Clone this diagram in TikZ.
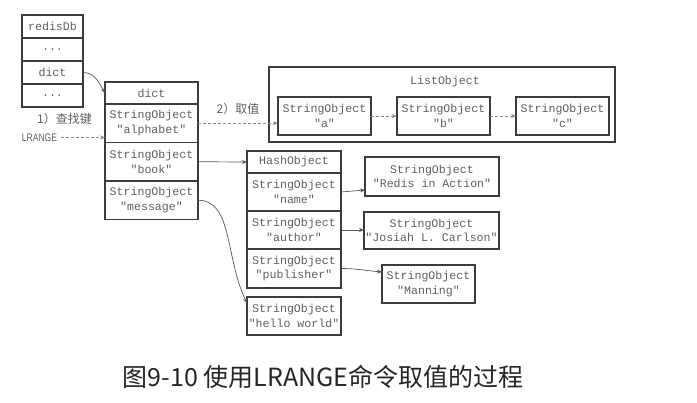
\documentclass[tikz,border=0pt]{standalone}
\usepackage{fontspec}
\usepackage{xcolor}
\usepackage{tikz}
\usetikzlibrary{positioning,calc,arrows.meta}
\newfontfamily\monofont{Liberation Mono}
\newfontfamily\cjk{Noto Sans CJK SC}
\newfontfamily\narrowfont[FakeStretch=0.78]{Liberation Sans}
\definecolor{boxline}{HTML}{3C3C3C}
\definecolor{txtgray}{HTML}{5E5E5E}
\definecolor{arrowgray}{HTML}{555555}
\definecolor{dashgray}{HTML}{8A8A8A}

\begin{document}
\begin{tikzpicture}[x=1pt,y=-1pt,
    cell/.style={draw=boxline, line width=1.5pt, outer sep=0pt, inner sep=0pt,
      align=center, text=txtgray, font=\monofont\fontsize{11.6}{14.5}\selectfont},
    narrowcell/.style={cell, minimum width=61pt, minimum height=23pt},
    headcell/.style={cell, minimum height=22pt},
    rowcell/.style={cell, minimum height=38.5pt},
    link/.style={draw=arrowgray, line width=0.7pt, -{Stealth[length=5pt,width=4pt]}},
    dashlink/.style={link, draw=dashgray, dash pattern=on 3pt off 2pt}]
    \useasboundingbox (0,0) rectangle (697,403);

    % redisDb
    \node[narrowcell] (db) at (52.5,26.5) {redisDb};
    \node[narrowcell, below=0pt of db] (dbdots) {...};
    \node[narrowcell, below=0pt of dbdots] (dbdict) {dict};
    \node[narrowcell, below=0pt of dbdict] (dbmore) {...};

    % dict
    \node[headcell, minimum width=93pt] (dict) at (151.5,93) {dict};
    \node[rowcell, minimum width=93pt, below=0pt of dict] (alpha) {StringObject\\"alphabet"};
    \node[rowcell, minimum width=93pt, below=0pt of alpha] (book) {StringObject\\"book"};
    \node[rowcell, minimum width=93pt, below=0pt of book] (msg) {StringObject\\"message"};

    % ListObject
    \node[cell, minimum width=346pt, minimum height=75pt] (list) at (442,104.5) {};
    \node[text=txtgray, font=\monofont\fontsize{11.6}{14.5}\selectfont] (listname) at (445,82) {ListObject};
    \node[cell, minimum width=93pt, minimum height=38pt] (sa) at (324.5,116) {StringObject\\"a"};
    \node[cell, minimum width=93pt, minimum height=38pt] (sb) at (443.5,116) {StringObject\\"b"};
    \node[cell, minimum width=93pt, minimum height=38pt] (sc) at (562.5,116) {StringObject\\"c"};

    % HashObject
    \node[headcell, minimum width=94pt] (hash) at (294,162) {HashObject};
    \node[rowcell, minimum width=94pt, minimum height=38pt, below=0pt of hash] (name) {StringObject\\"name"};
    \node[rowcell, minimum width=94pt, minimum height=38pt, below=0pt of name] (author) {StringObject\\"author"};
    \node[rowcell, minimum width=94pt, minimum height=39pt, below=0pt of author] (pub) {StringObject\\"publisher"};

    % values
    \node[cell, minimum width=134pt, minimum height=39pt] (redis) at (432,176.5) {StringObject\\"Redis in Action"};
    \node[cell, minimum width=135pt, minimum height=37pt] (josiah) at (431.5,230.5) {StringObject\\"Josiah L. Carlson"};
    \node[cell, minimum width=93pt, minimum height=38pt] (manning) at (428.5,284) {StringObject\\"Manning"};
    \node[cell, minimum width=94pt, minimum height=38pt] (hello) at (294,316) {StringObject\\"hello world"};

    % labels
    \node[text=txtgray, font=\cjk\fontsize{12}{12}\selectfont] (step1) at (64.5,119) {1）查找键};
    \node[text=txtgray, font=\narrowfont\fontsize{11}{11}\selectfont] (lrange) at (39.5,137.5) {LRANGE};
    \node[text=txtgray, font=\cjk\fontsize{12}{12}\selectfont] (step2) at (238,109) {2）取值};

    % connectors
    \draw[link] (dbdict.east) to[out=0,in=120] (dict.west);
    \draw[dashlink] (lrange.east) -- (lrange.east -| alpha.west);
    \draw[dashlink] (alpha.east) -- (alpha.east -| sa.west);
    \draw[dashlink] (sa) -- (sb);
    \draw[dashlink] (sb) -- (sc);
    \draw[link] (book.east) -- (hash.west);
    \coordinate (redisin) at ($(redis.west)+(0,13.5)$);
    \draw[link] (name.east) -- (redisin);
    \draw[link] (author.east) -- (author.east -| josiah.west);
    \coordinate (manningin) at ($(manning.west)+(0,-12)$);
    \draw[link] (pub.east) to[out=0,in=175] (manningin);
    \coordinate (helloin) at ($(hello.west)+(0,-13)$);
    \draw[link] (msg.east) .. controls +(35,0) and +(-22,-45) .. (helloin);

    % caption
    \node[text=black!85, font=\cjk\fontsize{25}{25}\selectfont] (caption) at (323,377) {图9-10 使用LRANGE命令取值的过程};
\end{tikzpicture}
\end{document}
